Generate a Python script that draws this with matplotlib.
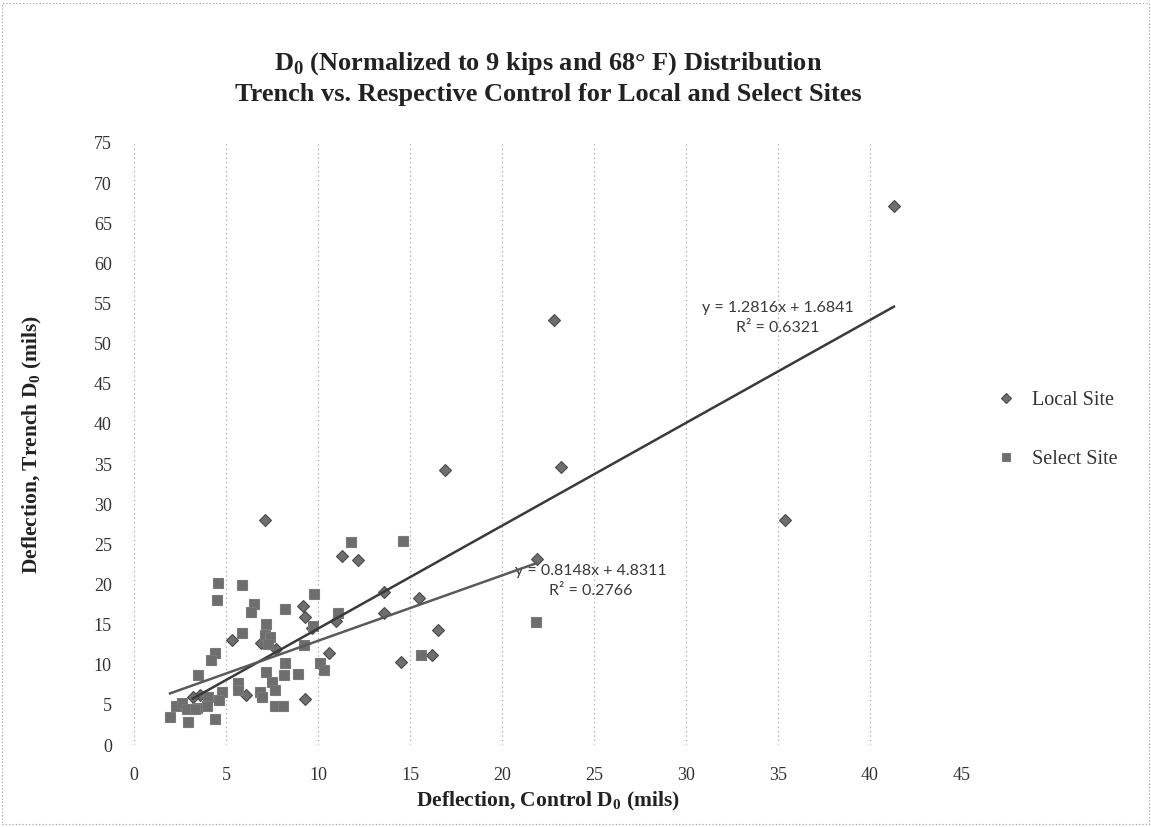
import numpy as np
import matplotlib.pyplot as plt
from matplotlib.patches import Rectangle

# Local Site (diamonds)
local_x = [41.3, 22.8, 35.4, 23.2, 16.9, 21.9, 15.5, 16.5, 16.2, 14.5,
           11.3, 12.2, 13.6, 13.6, 9.2, 9.3, 11.0, 10.6, 9.3, 5.3,
           6.9, 7.7, 6.1, 3.6, 7.1, 3.2, 9.7]
local_y = [67.1, 52.9, 28.0, 34.6, 34.2, 23.2, 18.3, 14.3, 11.2, 10.4,
           23.5, 23.0, 19.0, 16.4, 17.3, 15.9, 15.5, 11.5, 5.7, 13.1,
           12.7, 12.0, 6.2, 6.2, 28.0, 6.0, 14.6]

# Select Site (squares)
select_x = [21.85, 14.6, 15.6, 11.8, 9.8, 11.1, 9.74, 9.24, 10.1, 10.35,
            8.93, 4.58, 5.85, 4.5, 6.54, 6.36, 8.2, 7.16, 7.1, 7.4,
            5.85, 4.4, 4.2, 8.2, 8.17, 3.46, 7.2, 7.5, 7.66, 5.67,
            5.67, 6.85, 6.94, 7.66, 8.1, 4.76, 4.6, 4.0, 3.95, 4.4,
            3.4, 1.96, 2.3, 2.6, 2.95, 2.86, 3.3, 7.3]
select_y = [15.35, 25.4, 11.2, 25.3, 18.8, 16.4, 14.8, 12.45, 10.25, 9.3,
            8.9, 20.2, 19.9, 18.1, 17.6, 16.6, 16.9, 15.1, 13.7, 13.4,
            13.9, 11.4, 10.6, 10.2, 8.7, 8.7, 9.1, 7.9, 6.8, 7.7,
            6.85, 6.6, 6.0, 4.8, 4.8, 6.6, 5.6, 6.0, 4.8, 3.3,
            4.6, 3.5, 4.8, 5.2, 2.9, 4.5, 4.5, 12.6]

# trendline coefficients (slope, intercept, R^2) as printed on the chart
local_fit = [1.2816, 1.6841, 0.6321]
select_fit = [0.8148, 4.8311, 0.2766]

plt.rcParams['font.family'] = ['Liberation Serif', 'DejaVu Serif']
plt.rcParams['mathtext.fontset'] = 'custom'
plt.rcParams['mathtext.rm'] = 'Liberation Serif'
plt.rcParams['mathtext.bf'] = 'Liberation Serif:bold'

W, H = 1151, 827
fig = plt.figure(figsize=(W / 100, H / 100), dpi=100)
ax = fig.add_axes([134 / W, 1 - 745 / H, (962 - 134) / W, (745 - 143) / H])

mcol = '#6e6e6e'
ecol = '#4a4a4a'
ax.plot(local_x, local_y, 'D', ms=6.5, color=mcol, mec=ecol, mew=0.8,
        label='Local Site', zorder=3)
ax.plot(select_x, select_y, 's', ms=7.5, color=mcol, mec='#7a7a7a', mew=0.8,
        label='Select Site', zorder=3)

# linear trendlines over each series' range
xs = np.array([min(local_x), max(local_x)])
ax.plot(xs, local_fit[0] * xs + local_fit[1], color='#3a3a3a', lw=1.8, zorder=4)
xs = np.array([min(select_x), max(select_x)])
ax.plot(xs, select_fit[0] * xs + select_fit[1], color='#5a5a5a', lw=1.8, zorder=4)

eq_font = dict(family='Lato', size=11.5, color='#3a3a3a', ha='center', va='center',
               linespacing=1.55)
ax.text(35.0, 53.2, 'y = %.4fx + %.4f\nR² = %.4f' % tuple(local_fit), **eq_font)
ax.text(24.85, 20.4, 'y = %.4fx + %.4f\nR² = %.4f' % tuple(select_fit), **eq_font)

ax.set_xlim(0, 45)
ax.set_ylim(0, 75)
ax.set_xticks(range(0, 50, 5))
ax.set_yticks(range(0, 80, 5))
ax.tick_params(length=0, labelsize=13, labelcolor='#333333')
ax.tick_params(axis='x', pad=16)
ax.tick_params(axis='y', pad=16)
for s in ax.spines.values():
    s.set_visible(False)
ax.grid(axis='x', linestyle=(0, (1, 3)), color='#9a9a9a', lw=0.8)

ax.set_xlabel(r'Deflection, Control D$_{\mathbf{0}}$ (mils)', fontsize=15.5,
              fontweight='bold', color='#222222', labelpad=4)
ax.set_ylabel(r'Deflection, Trench D$_{\mathbf{0}}$ (mils)', fontsize=15.5,
              fontweight='bold', color='#222222', labelpad=36)

fig.text(0.476, 1 - 78 / H,
         'D$_{\\mathbf{0}}$ (Normalized to 9 kips and 68° F) Distribution\n'
         'Trench vs. Respective Control for Local and Select Sites',
         ha='center', va='center', fontsize=19, fontweight='bold',
         color='#222222', linespacing=1.35)

fig.legend(loc='center left', bbox_to_anchor=(968 / W, 1 - 430 / H),
           frameon=False, fontsize=14.5, labelspacing=2.0, handletextpad=0.3,
           markerscale=0.8, labelcolor='#333333')

# dotted chart-area border
fig.patches.append(Rectangle((0.002, 0.004), 0.996, 0.992, transform=fig.transFigure,
                             fill=False, ec='#9a9a9a', lw=0.8, ls=(0, (1, 2))))

plt.savefig('out.png', dpi=100)
plt.close()
